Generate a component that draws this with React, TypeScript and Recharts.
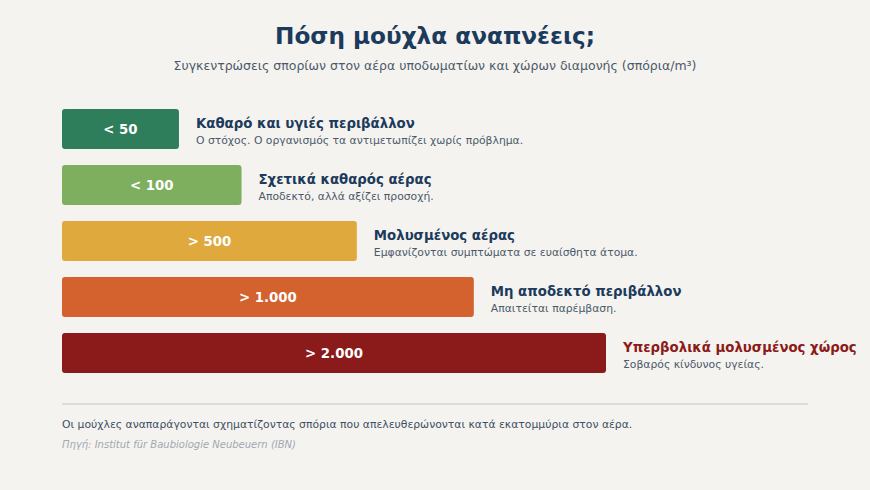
import React from 'react';
import { Bar, BarChart, Cell, LabelList, XAxis, YAxis } from 'recharts';

// Visible bar length on a 0–100 scale
const levels = ['< 50', '< 100', '> 500', '> 1.000', '> 2.000'];
const barLength = [21.5, 33, 54.2, 75.7, 100];
const titles = [
  'Καθαρό και υγιές περιβάλλον',
  'Σχετικά καθαρός αέρας',
  'Μολυσμένος αέρας',
  'Μη αποδεκτό περιβάλλον',
  'Υπερβολικά μολυσμένος χώρος',
];
const notes = [
  'Ο στόχος. Ο οργανισμός τα αντιμετωπίζει χωρίς πρόβλημα.',
  'Αποδεκτό, αλλά αξίζει προσοχή.',
  'Εμφανίζονται συμπτώματα σε ευαίσθητα άτομα.',
  'Απαιτείται παρέμβαση.',
  'Σοβαρός κίνδυνος υγείας.',
];
const COLORS = ['#2e7d5b', '#7daf5f', '#e0a93d', '#d3622f', '#8b1a1a'];
const TITLE_COLORS = ['#1b3a5c', '#1b3a5c', '#1b3a5c', '#1b3a5c', '#8b1a1a'];

const data = levels.map((level, i) => ({
  level,
  length: barLength[i],
  title: titles[i],
  note: notes[i],
  idx: i,
}));

const FONT = '"DejaVu Sans", sans-serif';

const SideLabel = (props: any) => {
  const { x, y, width, height, index } = props;
  const tx = x + width + 17;
  const cy = y + height / 2;
  return (
    <g>
      <text x={tx} y={cy - 1.5} fill={TITLE_COLORS[index]} fontSize={13.3} fontWeight="bold" fontFamily={FONT}>
        {titles[index]}
      </text>
      <text x={tx} y={cy + 15} fill="#4a5a6b" fontSize={10.8} fontFamily={FONT}>
        {notes[index]}
      </text>
    </g>
  );
};

const InnerLabel = (props: any) => {
  const { x, y, width, height, index } = props;
  return (
    <text
      x={x + width / 2}
      y={y + height / 2}
      fill="#ffffff"
      fontSize={13.3}
      fontWeight="bold"
      fontFamily={FONT}
      textAnchor="middle"
      dominantBaseline="central"
    >
      {levels[index]}
    </text>
  );
};

export default function App() {
  return (
    <div style={{ position: 'relative', width: 870, height: 490, background: '#f5f3ef', fontFamily: FONT, overflow: 'hidden' }}>
      <style>{`body{margin:0;background:#f5f3ef}`}</style>
      <div style={{ position: 'absolute', top: 22, left: 0, width: 870, textAlign: 'center', fontSize: 23.2, fontWeight: 'bold', color: '#1b3a5c' }}>
        Πόση μούχλα αναπνέεις;
      </div>
      <div style={{ position: 'absolute', top: 58, left: 0, width: 870, textAlign: 'center', fontSize: 12.5, color: '#4a5a6b' }}>
        Συγκεντρώσεις σπορίων στον αέρα υποδωματίων και χώρων διαμονής (σπόρια/m³)
      </div>
      <div style={{ position: 'absolute', top: 0, left: 0 }}>
        <BarChart
          width={870}
          height={490}
          data={data}
          layout="vertical"
          margin={{ top: 101, bottom: 109, left: 62, right: 264 }}
          barCategoryGap={16}
        >
          <XAxis type="number" domain={[0, 100]} hide />
          <YAxis type="category" dataKey="level" hide width={0} />
          <Bar dataKey="length" isAnimationActive={false} radius={[3, 3, 3, 3]} barSize={40}>
            {data.map((d) => (
              <Cell key={d.level} fill={COLORS[d.idx]} />
            ))}
            <LabelList dataKey="level" content={InnerLabel} />
            <LabelList dataKey="title" content={SideLabel} />
          </Bar>
        </BarChart>
      </div>
      <div style={{ position: 'absolute', top: 403, left: 62, width: 746, height: 2, background: '#dedcd5' }} />
      <div style={{ position: 'absolute', top: 418, left: 62, fontSize: 10.8, color: '#3d4f63' }}>
        Οι μούχλες αναπαράγονται σχηματίζοντας σπόρια που απελευθερώνονται κατά εκατομμύρια στον αέρα.
      </div>
      <div style={{ position: 'absolute', top: 439, left: 62, fontSize: 10, fontStyle: 'italic', color: '#a0a8b2' }}>
        Πηγή: Institut für Baubiologie Neubeuern (IBN)
      </div>
    </div>
  );
}
